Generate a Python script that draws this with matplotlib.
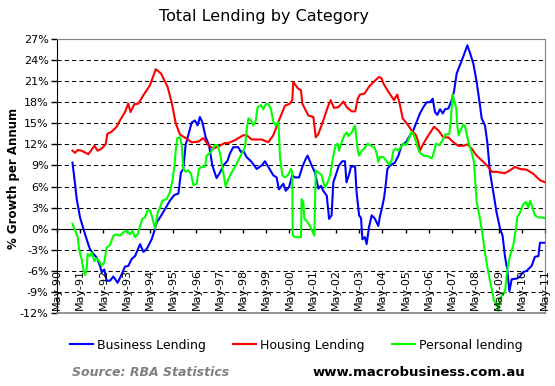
import matplotlib
matplotlib.use('Agg')
import matplotlib.pyplot as plt

# months counted from May-1990
years = ['May-90', 'May-91', 'May-92', 'May-93', 'May-94', 'May-95', 'May-96',
         'May-97', 'May-98', 'May-99', 'May-00', 'May-01', 'May-02', 'May-03',
         'May-04', 'May-05', 'May-06', 'May-07', 'May-08', 'May-09', 'May-10', 'May-11']
year_pos = [12 * i for i in range(len(years))]

bus_m = [8, 9, 10.2, 11.9, 13.6, 15.3, 17, 18.8, 20.5, 22.2, 23.1, 24.4, 25.6, 27.4,
         29.1, 31.3, 33.4, 35.1, 36.8, 38.6, 40.3, 42.9, 44.6, 46.3, 48.9, 50.3, 51.5,
         53.2, 55.8, 58.3, 60.6, 62.7, 64, 65.2, 66.4, 67.8, 69.5, 71.2, 72.6, 73.8, 75,
         76.8, 78.5, 80.2, 82.4, 84.2, 85.9, 88.1, 89.3, 91, 93.6, 95, 96.2, 97.9, 100.5,
         103.1, 105.7, 107.4, 109.1, 111.7, 113.4, 114.6, 116.9, 118.1, 119.8, 121.5,
         122.9, 125, 126.7, 128.4, 129.4, 131.5, 133.2, 135, 136.3, 137.5, 139.3, 140.5,
         141.8, 142.7, 143.9, 145.6, 147.3, 148.7, 149.5, 150.7, 151.8, 153.9, 154.7, 156,
         157, 157.7, 159, 159.9, 161.1, 162.5, 164.2, 165.9, 166.8, 167.7, 168.9, 169.9,
         170.6, 172, 174.5, 176.3, 178, 180.2, 182.3, 184, 185.7, 187.4, 189.2, 190.9,
         192.6, 194, 195.2, 196.4, 197.8, 199.2, 200.4, 202.1, 203.8, 205, 206.4, 208.1,
         209.8, 211.9, 213.3, 215, 216.7, 218.4, 219.3, 221, 222.2, 223.6, 225.3, 227,
         228.8, 230.1, 231.3, 232.5, 233.6, 234.8, 237.4, 239.1, 240.5, 242.5, 245.1,
         246.8, 248.6, 249.4, 252]
bus_v = [9.4, 7.1, 4.2, 1.6, 0, -1.5, -2.9, -3.6, -4.1, -5.3, -6.2, -5.8, -7.4, -7.4,
         -6.8, -7.7, -6.5, -5.4, -5.3, -4.3, -3.9, -2.2, -3.3, -2.9, -1.5, -0.3, 0.9,
         1.6, 2.8, 4.0, 4.8, 5.0, 8.0, 8.5, 11.9, 13.3, 15.1, 15.4, 14.7, 15.9, 15.2,
         13.0, 11.9, 9.0, 7.2, 8.0, 9.0, 9.7, 10.7, 11.6, 11.6, 10.9, 11.1, 10.2, 9.5,
         8.5, 9.0, 9.6, 8.8, 7.6, 7.3, 5.6, 6.4, 5.4, 5.9, 7.6,
         7.3, 7.3, 8.8, 9.9, 10.4, 9.0, 8.0, 5.7, 6.1, 5.4, 4.7, 1.4,
         1.9, 6.6, 7.6, 9.0, 9.6, 9.6, 6.6, 7.6, 8.8, 8.9, 5.2, 1.9,
         1.5, -1.5, -1.2, -2.2, 0.2, 1.9, 1.4, 0.4, 1.8, 2.8, 4.4, 6.6,
         8.5, 9.0, 9.4, 10.4, 11.9, 12.3, 13.3, 14.0, 15.2, 16.4, 17.3, 18.0,
         18.0, 18.5, 16.6, 16.2, 17.0, 16.4, 17.0, 17.1, 18.3, 19.5, 22.1, 23.3,
         24.5, 26.1, 25.0, 23.5, 20.9, 17.6, 15.7, 14.7, 12.3, 8.0, 5.2, 2.3,
         0, -1.0, -3.9, -5.8, -8.9, -7.2, -7.1, -6.8, -6.2, -6.0, -5.3,
         -4.0, -3.9, -2.0, -2.0]

house_m = [8, 9.3, 10.7, 12.7, 16.2, 19.3, 21, 23, 25.1, 26, 28.2, 30.8, 32.5, 35.1,
           36.8, 38, 39.9, 42, 44.6, 48, 51, 53.7, 57.1, 59.2, 61.3, 63.5, 67, 69.5, 73,
           75.6, 78.1, 80.7, 83.3, 86.7, 88.5, 91.9, 96.2, 98, 100.5, 105.7, 109.1, 111.7,
           114.3, 117.7, 120.3, 121.5, 122, 124.3, 126, 126.7, 129.8, 132.4, 133.6, 135,
           137.5, 139.8, 141.3, 143, 145.3, 147.9, 149.6, 152.2, 154, 155.3, 156.5, 158.7,
           161.1, 163.9, 166.3, 167.6, 168.5, 171.1, 174, 175.7, 177.1, 178.5, 180.6,
           183.1, 185.4, 186.6, 187.4, 189.2, 191.8, 194.7, 196.9, 199.5, 202.1, 204.7,
           207.2, 209.8, 211.9, 214.1, 216.7, 220.2, 222.7, 224.5, 227, 228.8, 231.3,
           233.9, 236.5, 239.1, 242.5, 246, 249.4, 252]
house_v = [11.1, 10.8, 11.2, 11.1, 10.6, 11.8, 11.1, 11.4, 12.0, 13.5, 13.8, 14.5, 15.4, 16.6,
           17.8, 16.6, 17.7, 17.8, 19.0, 20.4, 22.7, 22.1, 20.2, 18.0, 15.0, 13.4, 12.8, 12.3, 12.4,
           12.9, 11.9, 11.4, 11.7, 12.2, 12.2, 12.6, 13.3, 13.3, 12.7, 12.7, 12.3, 13.3,
           15.2, 17.5, 17.8, 18.3, 20.9, 20.0, 19.7, 17.8, 16.1, 15.9, 13.0, 13.5,
           15.4, 17.3, 18.3, 17.2, 17.3, 18.1, 17.3, 16.7, 16.7, 18.5, 19.1, 19.2,
           20.2, 21.0, 21.6, 21.4, 20.7, 19.5, 18.3, 19.1, 17.6, 15.7, 15.0,
           14.0, 13.3, 12.3, 11.1, 12.1, 13.3, 14.5, 14.0, 13.0, 13.0, 12.3,
           11.8, 11.8, 12.0, 11.4, 10.4, 9.5, 8.8, 8.1, 8.1, 8.0, 7.9,
           8.3, 8.8, 8.5, 8.4, 7.8, 6.9, 6.6]

pers_m = [8, 9, 10.7, 11.4, 12.7, 13.6, 14.5, 15.3, 15.8, 17, 17.9, 19.3, 20.5, 21.7, 23.1,
          24.4, 25.6, 27.4, 29.1, 30.8, 32.5, 34.3, 36, 37.7, 38.9, 40.3, 41.7, 42.9, 44.1,
          45.4, 46.8, 48, 49.2, 50.6, 52, 53.2, 54.4, 56.6, 58.3, 59.5, 60.6, 61.3, 62.1,
          63.5, 64.4, 65.2, 66.6, 67.8, 69.2, 70.4, 72.1, 73.3, 74.7, 76.4, 77.3, 79.5, 81.6,
          82.9, 84.2, 85.2, 86.4, 87.1, 88.5, 90.2, 92.3, 94.5, 97.1, 98, 98.8, 100.2, 101.4,
          102.6, 103.6, 105.3, 106.5, 107.8, 109.1, 110.5, 111.7, 112.9, 114.3, 115.2, 116.4,
          117.7, 119.5, 120.8, 121.5, 121.7, 122.9, 126, 126.3, 127.2, 127.7, 128.9, 130.6,
          131.8, 132.9, 133.6, 135, 136.7, 137.5, 138.4, 139.8, 141, 141.8, 142.7, 143.9,
          144.9, 145.6, 147, 148.4, 149.6, 150.4, 152.2, 153.9, 155.3, 156, 157.4, 158.7,
          160.4, 162.1, 163.9, 165.1, 165.9, 166.8, 168.5, 169.9, 171.6, 172.8, 173.7, 175.1,
          176.3, 177.5, 178.8, 180.2, 181.4, 183.1, 184.3, 185.7, 187.1, 189.2, 191.8, 193.5,
          194.7, 195.7, 197.4, 199.2, 200.4, 202.6, 203.3, 204.3, 205, 206.1, 206.7, 207.4,
          208.4, 209.8, 210.6, 211.5, 212.9, 214.1, 215.3, 216.7, 218.1, 219.3, 221, 222.7,
          224.5, 225.7, 227, 227.9, 228.8, 230.1, 231.3, 232.5, 233.9, 235.6, 237, 237.7,
          239.1, 240.8, 242.2, 243.4, 244.3, 245.6, 246.8, 248.6, 250.3, 252]
pers_v = [0.7, 0, -1.2, -2.9, -4.3, -5.8, -6.6, -5.8, -3.6, -3.9, -3.4, -4.6, -4.2, -4.6, -5.3,
          -4.8, -2.7, -2.3, -1.0, -0.8, -1.0, -0.5, -0.3, -0.8, -0.3, -1.2, -0.8, 0.4, 1.4,
          1.6, 2.6, 2.6, 1.6, 0, 2.3, 3.0, 4.0, 4.2, 5.2, 6.6, 8.8, 11.1, 12.9,
          13.0, 11.9, 8.5, 8.1, 8.3, 7.8, 6.2, 6.4, 8.5, 8.8, 8.8, 10.4, 10.9, 11.9,
          11.9, 10.7, 9.0, 7.1, 6.0, 7.1, 8.0, 9.0, 10.2, 11.6, 14.2, 15.7, 15.4, 14.7,
          15.3, 17.3, 17.6, 17.0, 17.7, 17.8, 17.0, 15.2, 14.7, 15.2, 10.0, 7.6,
          7.3, 7.7, 8.5, 8.0, -0.9, -1.2, -1.2, 4.2, 3.8, 1.4, 1.1, 0.4,
          -0.3, -1.0, 8.3, 8.0, 7.6, 6.6, 5.9, 6.6, 7.6, 8.8, 10.4, 11.9,
          12.1, 11.1, 12.3, 13.3, 13.7, 13.2, 13.7, 14.7, 11.1, 10.4, 11.1, 11.4,
          12.1, 11.8, 11.6, 10.7, 9.5, 10.2, 10.2, 9.7, 9.1, 9.7, 11.1, 11.4,
          11.1, 11.6, 12.1, 11.9, 12.6, 13.8, 13.3, 12.1, 10.9, 10.4, 10.3, 10.0,
          10.9, 12.1, 11.9, 12.6, 13.4, 13.5, 15.2, 19.1, 18.3, 17.3, 14.7, 13.3,
          14.0, 14.8, 14.7, 13.5, 11.9, 10.9, 9.5, 3.8, 1.9, 0, -3.4, -6.2,
          -8.6, -10.3, -10.5, -11.7, -10.0, -9.3, -9.1, -5.8, -3.9, -2.4, 0, 1.6,
          2.3, 3.5, 3.8, 3.0, 4.0, 3.0, 1.9, 1.6, 1.6, 1.5]

yticks = list(range(-12, 28, 3))
ylabels = ['%d%%' % v for v in yticks]

fig = plt.figure(figsize=(5.55, 3.86), dpi=100)
ax = fig.add_axes([57 / 555, 1 - 313 / 386, 488 / 555, 274 / 386])

ax.plot(bus_m, bus_v, color='#0000FF', lw=1.5, label='Business Lending', zorder=3)
ax.plot(house_m, house_v, color='#FF0000', lw=1.5, label='Housing Lending', zorder=3)
ax.plot(pers_m, pers_v, color='#00FF00', lw=1.5, label='Personal lending', zorder=3)

ax.set_xlim(0, 252)
ax.set_ylim(-12, 27)
ax.set_yticks(yticks)
ax.set_yticklabels(ylabels, fontsize=8)
ax.tick_params(axis='y', direction='out', length=4, width=1, pad=2)
ax.grid(axis='y', color='black', linestyle=(0, (4, 3)), linewidth=0.75)

# category axis crosses at zero
ax.spines['bottom'].set_position(('data', 0))
ax.spines['bottom'].set_color('black')
ax.spines['left'].set_color('black')
for s in ['top', 'right']:
    ax.spines[s].set_color('#808080')
ax.axhline(-12, color='#808080', lw=1.2, zorder=2.6, clip_on=False)
ax.set_xticks(year_pos)
ax.set_xticklabels([])
ax.tick_params(axis='x', direction='out', length=3, width=1)
for p, lab in zip(year_pos, years):
    ax.annotate(lab, xy=(p, 0), xycoords=('data', 'axes fraction'), xytext=(0, 2),
                textcoords='offset points', rotation=90, ha='center', va='bottom',
                fontsize=8)

fig.text(264 / 555, 1 - 17 / 386, 'Total Lending by Category', ha='center', va='center',
         fontsize=11.5)
fig.text(14 / 555, 1 - 178 / 386, '% Growth per Annum', rotation=90, ha='center',
         va='center', fontsize=8.5, fontweight='bold')

fig.legend(loc='center', bbox_to_anchor=(296 / 555, 1 - 345 / 386), ncol=3, frameon=False,
           fontsize=9, handlelength=1.85, handletextpad=0.3, columnspacing=2.2)

fig.text(72 / 555, 1 - 372 / 386, 'Source: RBA Statistics', ha='left', va='center',
         fontsize=9, style='italic', fontweight='bold', color='#808080')
fig.text(525 / 555, 1 - 372 / 386, 'www.macrobusiness.com.au', ha='right', va='center',
         fontsize=9.5, fontweight='bold')

fig.savefig('out.png', dpi=100)
